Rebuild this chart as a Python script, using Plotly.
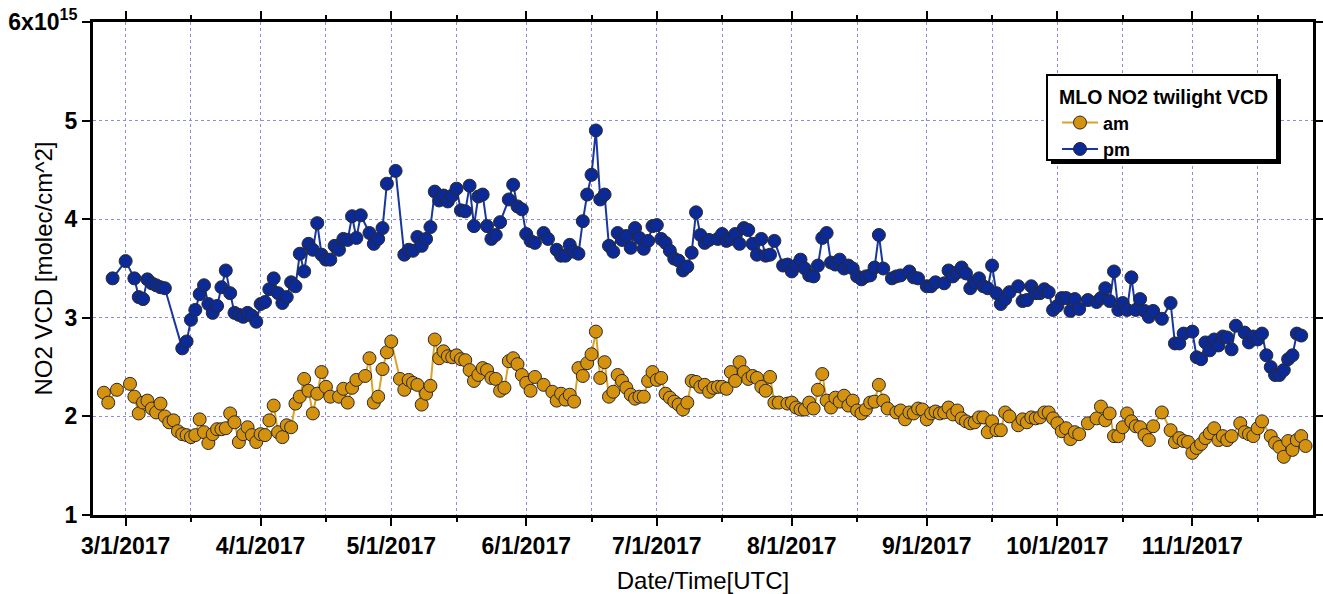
import plotly.graph_objects as go

# ---------------- data (values in units of 1e15 molec/cm^2) ----------------
am_dates = [
    "2017-02-24", "2017-02-25", "2017-02-27", "2017-03-02", "2017-03-03", "2017-03-04", "2017-03-05",
    "2017-03-06", "2017-03-07", "2017-03-08", "2017-03-09", "2017-03-10", "2017-03-11", "2017-03-12",
    "2017-03-13", "2017-03-14", "2017-03-15", "2017-03-16", "2017-03-17", "2017-03-18", "2017-03-19",
    "2017-03-20", "2017-03-21", "2017-03-22", "2017-03-23", "2017-03-24", "2017-03-25", "2017-03-26",
    "2017-03-27", "2017-03-28", "2017-03-29", "2017-03-30", "2017-03-31", "2017-04-01", "2017-04-02",
    "2017-04-03", "2017-04-04", "2017-04-05", "2017-04-06", "2017-04-07", "2017-04-08", "2017-04-09",
    "2017-04-10", "2017-04-11", "2017-04-12", "2017-04-13", "2017-04-14", "2017-04-15", "2017-04-16",
    "2017-04-17", "2017-04-19", "2017-04-20", "2017-04-21", "2017-04-22", "2017-04-23", "2017-04-25",
    "2017-04-26", "2017-04-27", "2017-04-28", "2017-04-29", "2017-04-30", "2017-05-01", "2017-05-03",
    "2017-05-04", "2017-05-05", "2017-05-06", "2017-05-07", "2017-05-08", "2017-05-09", "2017-05-10",
    "2017-05-11", "2017-05-12", "2017-05-13", "2017-05-14", "2017-05-15", "2017-05-16", "2017-05-17",
    "2017-05-18", "2017-05-19", "2017-05-20", "2017-05-21", "2017-05-22", "2017-05-23", "2017-05-24",
    "2017-05-25", "2017-05-26", "2017-05-27", "2017-05-28", "2017-05-29", "2017-05-30", "2017-05-31",
    "2017-06-01", "2017-06-02", "2017-06-03", "2017-06-05", "2017-06-07", "2017-06-08", "2017-06-09",
    "2017-06-10", "2017-06-11", "2017-06-12", "2017-06-13", "2017-06-14", "2017-06-15", "2017-06-16",
    "2017-06-17", "2017-06-18", "2017-06-19", "2017-06-20", "2017-06-21", "2017-06-22", "2017-06-23",
    "2017-06-24", "2017-06-25", "2017-06-26", "2017-06-27", "2017-06-28", "2017-06-29", "2017-06-30",
    "2017-07-01", "2017-07-02", "2017-07-03", "2017-07-04", "2017-07-05", "2017-07-06", "2017-07-07",
    "2017-07-08", "2017-07-09", "2017-07-10", "2017-07-11", "2017-07-12", "2017-07-13", "2017-07-14",
    "2017-07-15", "2017-07-16", "2017-07-17", "2017-07-18", "2017-07-19", "2017-07-20", "2017-07-21",
    "2017-07-22", "2017-07-23", "2017-07-24", "2017-07-25", "2017-07-26", "2017-07-27", "2017-07-28",
    "2017-07-29", "2017-07-31", "2017-08-01", "2017-08-02", "2017-08-03", "2017-08-04", "2017-08-05",
    "2017-08-06", "2017-08-07", "2017-08-08", "2017-08-09", "2017-08-10", "2017-08-11", "2017-08-12",
    "2017-08-13", "2017-08-14", "2017-08-15", "2017-08-16", "2017-08-17", "2017-08-18", "2017-08-19",
    "2017-08-20", "2017-08-21", "2017-08-22", "2017-08-23", "2017-08-25", "2017-08-26", "2017-08-27",
    "2017-08-28", "2017-08-29", "2017-08-30", "2017-08-31", "2017-09-01", "2017-09-02", "2017-09-03",
    "2017-09-04", "2017-09-05", "2017-09-06", "2017-09-07", "2017-09-08", "2017-09-09", "2017-09-10",
    "2017-09-11", "2017-09-12", "2017-09-13", "2017-09-14", "2017-09-15", "2017-09-16", "2017-09-17",
    "2017-09-18", "2017-09-19", "2017-09-20", "2017-09-22", "2017-09-23", "2017-09-24", "2017-09-25",
    "2017-09-26", "2017-09-27", "2017-09-28", "2017-09-29", "2017-09-30", "2017-10-01", "2017-10-02",
    "2017-10-03", "2017-10-04", "2017-10-05", "2017-10-06", "2017-10-08", "2017-10-10", "2017-10-11",
    "2017-10-12", "2017-10-13", "2017-10-14", "2017-10-15", "2017-10-16", "2017-10-17", "2017-10-18",
    "2017-10-19", "2017-10-20", "2017-10-21", "2017-10-22", "2017-10-23", "2017-10-25", "2017-10-27",
    "2017-10-28", "2017-10-29", "2017-10-30", "2017-10-31", "2017-11-01", "2017-11-02", "2017-11-03",
    "2017-11-04", "2017-11-05", "2017-11-06", "2017-11-07", "2017-11-08", "2017-11-09", "2017-11-10",
    "2017-11-12", "2017-11-13", "2017-11-14", "2017-11-15", "2017-11-16", "2017-11-17", "2017-11-19",
    "2017-11-20", "2017-11-21", "2017-11-22", "2017-11-23", "2017-11-24", "2017-11-25", "2017-11-26",
    "2017-11-27",
]
am_vals = [
    2.24, 2.14, 2.27, 2.33, 2.20, 2.03, 2.14,
    2.16, 2.08, 2.04, 2.13, 2.00, 1.94, 1.96,
    1.85, 1.82, 1.81, 1.79, 1.81, 1.97, 1.84,
    1.73, 1.82, 1.87, 1.87, 1.88, 2.03, 1.94,
    1.74, 1.82, 1.89, 1.81, 1.74, 1.82, 1.81,
    1.96, 2.11, 1.84, 1.79, 1.91, 1.89, 2.13,
    2.20, 2.38, 2.26, 2.03, 2.23, 2.45, 2.30,
    2.20, 2.20, 2.28, 2.14, 2.29, 2.37, 2.41,
    2.59, 2.14, 2.20, 2.48, 2.65, 2.76, 2.38,
    2.27, 2.37, 2.34, 2.32, 2.12, 2.23, 2.31,
    2.78, 2.59, 2.66, 2.61, 2.60, 2.62, 2.58,
    2.57, 2.47, 2.36, 2.42, 2.49, 2.47, 2.39,
    2.38, 2.26, 2.29, 2.56, 2.59, 2.53, 2.42,
    2.34, 2.26, 2.40, 2.32, 2.25, 2.16, 2.23,
    2.17, 2.22, 2.15, 2.49, 2.41, 2.54, 2.63,
    2.86, 2.39, 2.55, 2.20, 2.25, 2.42, 2.36,
    2.29, 2.22, 2.18, 2.20, 2.20, 2.36, 2.45,
    2.37, 2.39, 2.23, 2.19, 2.15, 2.12, 2.07,
    2.14, 2.36, 2.35, 2.30, 2.32, 2.25, 2.29,
    2.30, 2.30, 2.28, 2.45, 2.36, 2.55, 2.45,
    2.38, 2.41, 2.39, 2.30, 2.26, 2.40, 2.14,
    2.14, 2.13, 2.14, 2.09, 2.07, 2.07, 2.14,
    2.08, 2.27, 2.43, 2.16, 2.09, 2.19, 2.15,
    2.21, 2.11, 2.16, 2.06, 2.03, 2.07, 2.14,
    2.15, 2.32, 2.16, 2.08, 2.04, 2.06, 1.97,
    2.04, 2.03, 2.08, 2.07, 1.97, 2.03, 2.05,
    2.03, 2.04, 2.09, 2.02, 2.06, 1.98, 1.95,
    1.93, 1.94, 1.99, 1.99, 1.84, 1.95, 1.86,
    1.86, 2.04, 2.00, 1.91, 1.97, 1.94, 1.99,
    1.98, 1.99, 2.04, 2.04, 1.98, 1.93, 1.85,
    1.88, 1.77, 1.84, 1.82, 1.93, 1.98, 2.10,
    1.96, 2.03, 1.80, 1.80, 1.89, 2.03, 1.95,
    1.90, 1.89, 1.81, 1.76, 1.90, 2.04, 1.86,
    1.74, 1.78, 1.75, 1.74, 1.63, 1.68, 1.72,
    1.78, 1.83, 1.88, 1.76, 1.80, 1.76, 1.80,
    1.93, 1.84, 1.82, 1.80, 1.88, 1.95, 1.80,
    1.73, 1.69, 1.59, 1.75, 1.66, 1.76, 1.80,
    1.70,
]

pm_dates = [
    "2017-02-26", "2017-03-01", "2017-03-03", "2017-03-04", "2017-03-05", "2017-03-06", "2017-03-07",
    "2017-03-08", "2017-03-09", "2017-03-10", "2017-03-14", "2017-03-15", "2017-03-16", "2017-03-17",
    "2017-03-18", "2017-03-19", "2017-03-20", "2017-03-21", "2017-03-22", "2017-03-23", "2017-03-24",
    "2017-03-25", "2017-03-26", "2017-03-27", "2017-03-28", "2017-03-29", "2017-03-30", "2017-03-31",
    "2017-04-01", "2017-04-02", "2017-04-03", "2017-04-04", "2017-04-05", "2017-04-06", "2017-04-07",
    "2017-04-08", "2017-04-09", "2017-04-10", "2017-04-11", "2017-04-12", "2017-04-13", "2017-04-14",
    "2017-04-15", "2017-04-16", "2017-04-17", "2017-04-18", "2017-04-19", "2017-04-20", "2017-04-21",
    "2017-04-22", "2017-04-23", "2017-04-24", "2017-04-26", "2017-04-27", "2017-04-28", "2017-04-29",
    "2017-04-30", "2017-05-02", "2017-05-04", "2017-05-05", "2017-05-06", "2017-05-07", "2017-05-08",
    "2017-05-09", "2017-05-10", "2017-05-11", "2017-05-12", "2017-05-13", "2017-05-14", "2017-05-15",
    "2017-05-16", "2017-05-17", "2017-05-18", "2017-05-19", "2017-05-20", "2017-05-21", "2017-05-22",
    "2017-05-23", "2017-05-24", "2017-05-25", "2017-05-26", "2017-05-28", "2017-05-29", "2017-05-30",
    "2017-05-31", "2017-06-01", "2017-06-02", "2017-06-03", "2017-06-05", "2017-06-06", "2017-06-08",
    "2017-06-09", "2017-06-10", "2017-06-11", "2017-06-12", "2017-06-13", "2017-06-14", "2017-06-15",
    "2017-06-16", "2017-06-17", "2017-06-18", "2017-06-19", "2017-06-20", "2017-06-21", "2017-06-22",
    "2017-06-23", "2017-06-24", "2017-06-25", "2017-06-26", "2017-06-27", "2017-06-28", "2017-06-29",
    "2017-06-30", "2017-07-01", "2017-07-02", "2017-07-03", "2017-07-04", "2017-07-05", "2017-07-06",
    "2017-07-07", "2017-07-08", "2017-07-09", "2017-07-10", "2017-07-11", "2017-07-12", "2017-07-13",
    "2017-07-15", "2017-07-16", "2017-07-17", "2017-07-18", "2017-07-19", "2017-07-20", "2017-07-21",
    "2017-07-22", "2017-07-23", "2017-07-24", "2017-07-25", "2017-07-26", "2017-07-27", "2017-07-28",
    "2017-07-30", "2017-07-31", "2017-08-01", "2017-08-02", "2017-08-03", "2017-08-04", "2017-08-05",
    "2017-08-06", "2017-08-07", "2017-08-08", "2017-08-09", "2017-08-10", "2017-08-11", "2017-08-12",
    "2017-08-13", "2017-08-14", "2017-08-15", "2017-08-16", "2017-08-17", "2017-08-18", "2017-08-19",
    "2017-08-20", "2017-08-21", "2017-08-22", "2017-08-24", "2017-08-25", "2017-08-26", "2017-08-28",
    "2017-08-29", "2017-08-30", "2017-09-01", "2017-09-02", "2017-09-03", "2017-09-05", "2017-09-06",
    "2017-09-07", "2017-09-08", "2017-09-09", "2017-09-10", "2017-09-11", "2017-09-12", "2017-09-13",
    "2017-09-14", "2017-09-15", "2017-09-16", "2017-09-17", "2017-09-18", "2017-09-19", "2017-09-20",
    "2017-09-22", "2017-09-23", "2017-09-24", "2017-09-25", "2017-09-26", "2017-09-27", "2017-09-28",
    "2017-09-29", "2017-09-30", "2017-10-01", "2017-10-02", "2017-10-03", "2017-10-04", "2017-10-05",
    "2017-10-06", "2017-10-08", "2017-10-10", "2017-10-11", "2017-10-12", "2017-10-13", "2017-10-14",
    "2017-10-15", "2017-10-16", "2017-10-17", "2017-10-18", "2017-10-19", "2017-10-20", "2017-10-21",
    "2017-10-22", "2017-10-23", "2017-10-25", "2017-10-27", "2017-10-28", "2017-10-29", "2017-10-30",
    "2017-11-01", "2017-11-02", "2017-11-03", "2017-11-04", "2017-11-05", "2017-11-06", "2017-11-07",
    "2017-11-08", "2017-11-09", "2017-11-10", "2017-11-11", "2017-11-13", "2017-11-14", "2017-11-15",
    "2017-11-16", "2017-11-17", "2017-11-18", "2017-11-19", "2017-11-20", "2017-11-21", "2017-11-22",
    "2017-11-23", "2017-11-24", "2017-11-25", "2017-11-26",
]
pm_vals = [
    3.40, 3.575, 3.40, 3.21, 3.19, 3.39, 3.35,
    3.33, 3.31, 3.30, 2.69, 2.76, 2.98, 3.08,
    3.24, 3.33, 3.14, 3.05, 3.12, 3.31, 3.48,
    3.25, 3.05, 3.03, 3.01, 3.05, 3.02, 2.96,
    3.14, 3.16, 3.29, 3.40, 3.25, 3.15, 3.21,
    3.36, 3.32, 3.65, 3.47, 3.75, 3.69, 3.96,
    3.64, 3.59, 3.59, 3.73, 3.69, 3.80, 3.79,
    4.03, 3.81, 4.04, 3.86, 3.75, 3.80, 3.91,
    4.36, 4.49, 3.64, 3.69, 3.68, 3.82, 3.73,
    3.80, 3.92, 4.28, 4.19, 4.24, 4.18, 4.24,
    4.31, 4.09, 4.08, 4.34, 3.93, 4.23, 4.25,
    3.93, 3.80, 3.84, 3.97, 4.20, 4.35, 4.13,
    4.10, 3.85, 3.78, 3.76, 3.86, 3.80, 3.69,
    3.63, 3.63, 3.74, 3.67, 3.65, 3.98, 4.25,
    4.45, 4.90, 4.20, 4.25, 3.73, 3.67, 3.86,
    3.79, 3.83, 3.71, 3.91, 3.81, 3.70, 3.78,
    3.93, 3.94, 3.80, 3.76, 3.68, 3.60, 3.58,
    3.48, 3.52, 3.66, 4.07, 3.84, 3.76, 3.79,
    3.80, 3.85, 3.78, 3.80, 3.85, 3.75, 3.91,
    3.89, 3.75, 3.64, 3.80, 3.63, 3.64, 3.78,
    3.53, 3.54, 3.47, 3.53, 3.59, 3.50, 3.43,
    3.42, 3.53, 3.81, 3.86, 3.56, 3.54, 3.59,
    3.50, 3.53, 3.50, 3.42, 3.39, 3.42, 3.43,
    3.51, 3.84, 3.50, 3.40, 3.42, 3.43, 3.47,
    3.41, 3.40, 3.32, 3.32, 3.36, 3.35, 3.48,
    3.42, 3.46, 3.51, 3.45, 3.30, 3.36, 3.40,
    3.32, 3.30, 3.53, 3.25, 3.14, 3.19, 3.26,
    3.32, 3.17, 3.18, 3.32, 3.25, 3.25, 3.29,
    3.26, 3.08, 3.12, 3.20, 3.20, 3.07, 3.19,
    3.09, 3.18, 3.16, 3.20, 3.30, 3.17, 3.47,
    3.08, 3.15, 3.08, 3.41, 3.08, 3.19, 3.07,
    3.01, 3.07, 2.99, 3.15, 2.74, 2.74, 2.84,
    2.86, 2.60, 2.58, 2.75, 2.67, 2.78, 2.72,
    2.81, 2.80, 2.68, 2.92, 2.85, 2.75, 2.81,
    2.78, 2.84, 2.62, 2.50, 2.42, 2.42, 2.47,
    2.58, 2.62, 2.84, 2.82,
]

month_ticks = ["2017-03-01", "2017-04-01", "2017-05-01", "2017-06-01", "2017-07-01",
               "2017-08-01", "2017-09-01", "2017-10-01", "2017-11-01"]
month_labels = ["3/1/2017", "4/1/2017", "5/1/2017", "6/1/2017", "7/1/2017",
                "8/1/2017", "9/1/2017", "10/1/2017", "11/1/2017"]
mid_ticks = ["2017-03-16", "2017-04-16", "2017-05-16", "2017-06-16", "2017-07-16",
             "2017-08-16", "2017-09-16", "2017-10-16", "2017-11-16"]
y_ticks = [1, 2, 3, 4, 5, 6]
y_labels = ["1", "2", "3", "4", "5", "6x10<sup>15</sup>"]
y_title = "NO2 VCD [molec/cm^2]"
x_title = "Date/Time[UTC]"
legend_title = "MLO NO2 twilight VCD"

# ---------------- styling ----------------
FONT = "Arial, Liberation Sans, sans-serif"
AM_FILL, AM_LINE = "#D4920F", "#D9A22A"
PM_FILL, PM_LINE = "#0B2A98", "#17369F"
EDGE = "#2a2a2a"
GRID = "#8c8ce0"

# plot-area geometry (px) used to place the legend frame and y title
W, H = 1323, 594
ML, MR, MT, MB = 93, 10, 22, 79
PW, PH = W - ML - MR, H - MT - MB


def px_x(px):
    return (px - ML) / PW


def px_y(py):
    return (H - MB - py) / PH


fig = go.Figure()
fig.add_trace(go.Scatter(
    x=am_dates, y=am_vals, mode="lines+markers", name="am",
    line=dict(color=AM_LINE, width=2),
    marker=dict(size=13, color=AM_FILL, line=dict(color=EDGE, width=1)),
))
fig.add_trace(go.Scatter(
    x=pm_dates, y=pm_vals, mode="lines+markers", name="pm",
    line=dict(color=PM_LINE, width=2),
    marker=dict(size=13, color=PM_FILL, line=dict(color=EDGE, width=1)),
))

# legend frame with drop shadow
box_l, box_r, box_t, box_b = 1047, 1277, 75, 160
fig.add_shape(type="rect", xref="paper", yref="paper", layer="above",
              x0=px_x(box_l + 4), x1=px_x(box_r + 4), y0=px_y(box_b + 4), y1=px_y(box_t + 4),
              fillcolor="black", line=dict(color="black", width=0))
fig.add_shape(type="rect", xref="paper", yref="paper", layer="above",
              x0=px_x(box_l), x1=px_x(box_r), y0=px_y(box_b), y1=px_y(box_t),
              fillcolor="white", line=dict(color="black", width=2))

# y-axis title (placed explicitly so the wide "6x10^15" label does not push it away)
fig.add_annotation(text=y_title, xref="paper", yref="paper", x=px_x(43), y=0.5,
                   xanchor="center", yanchor="middle", textangle=-90, showarrow=False,
                   font=dict(family=FONT, size=24, color="black"))

fig.update_layout(
    width=W, height=H,
    margin=dict(l=ML, r=MR, t=MT, b=MB),
    paper_bgcolor="white", plot_bgcolor="white",
    font=dict(family=FONT, color="black"),
    showlegend=True,
    legend=dict(
        x=px_x(1057), y=px_y(79), xanchor="left", yanchor="top",
        bgcolor="rgba(0,0,0,0)", borderwidth=0, itemwidth=36,
        font=dict(family=FONT, size=18, color="black", weight="bold"),
        title=dict(text=legend_title,
                   font=dict(family=FONT, size=19.5, color="black", weight="bold")),
        tracegroupgap=0,
    ),
)

fig.update_xaxes(
    type="date", range=["2017-02-21 12:00", "2017-11-28 17:00"], automargin=False,
    tickmode="array", tickvals=month_ticks, ticktext=month_labels,
    tickfont=dict(family=FONT, size=23, color="black", weight="bold"),
    ticks="outside", ticklen=8, tickwidth=2, tickcolor="black",
    showline=True, linewidth=3, linecolor="black", mirror="ticks",
    showgrid=True, gridcolor=GRID, griddash="dot", gridwidth=1,
    zeroline=False,
    minor=dict(tickmode="array", tickvals=mid_ticks, ticks="outside", ticklen=4,
               tickwidth=2, tickcolor="black", showgrid=True, gridcolor=GRID,
               griddash="dot", gridwidth=1),
    title=dict(text=x_title, font=dict(family=FONT, size=24, color="black")),
)
fig.update_yaxes(
    range=[1, 6], automargin=False, tickmode="array", tickvals=y_ticks, ticktext=y_labels,
    tickfont=dict(family=FONT, size=23, color="black", weight="bold"),
    ticks="outside", ticklen=8, tickwidth=2, tickcolor="black",
    showline=True, linewidth=3, linecolor="black", mirror="ticks",
    showgrid=True, gridcolor=GRID, griddash="dot", gridwidth=1,
    zeroline=False,
)

fig.write_html("out.html")
